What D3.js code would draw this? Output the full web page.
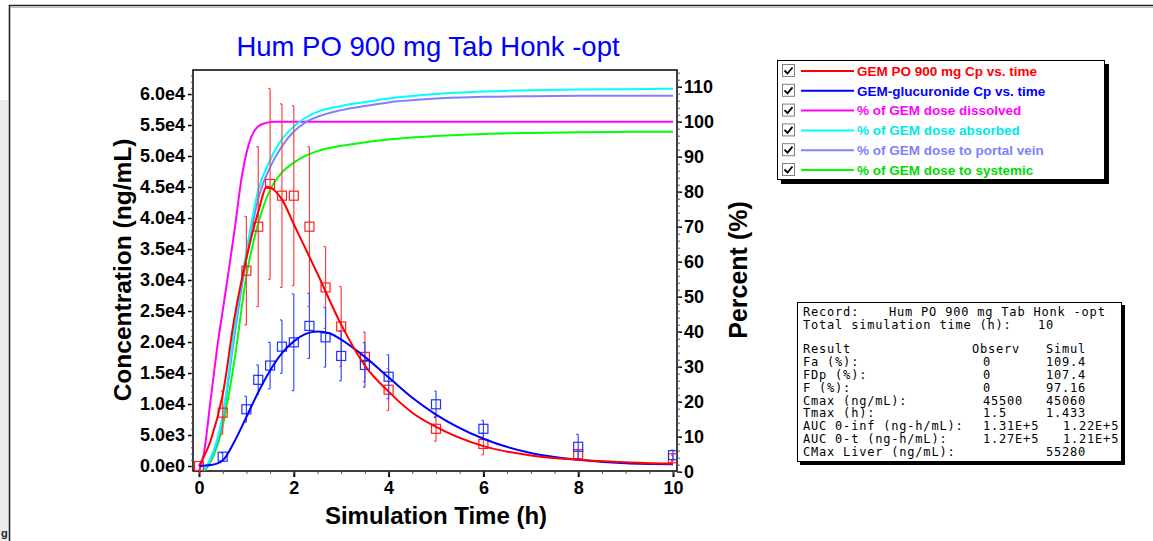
<!DOCTYPE html>
<html><head><meta charset="utf-8">
<script src="https://cdn.jsdelivr.net/npm/d3@7/dist/d3.min.js"></script>
<style>
html,body{margin:0;padding:0;background:#fff;}
svg{display:block;font-family:"Liberation Sans",Arial,sans-serif;}
</style></head>
<body>
<svg id="chart" width="1153" height="541"></svg>
<script>
// ---------- DATA ----------
const title = "Hum PO 900 mg Tab Honk -opt";
const xTicks = [0, 2, 4, 6, 8, 10];
const yLeftTicks = [0, 5000, 10000, 15000, 20000, 25000, 30000, 35000, 40000, 45000, 50000, 55000, 60000];
const yLeftLabels = ["0.0e0","5.0e3","1.0e4","1.5e4","2.0e4","2.5e4","3.0e4","3.5e4","4.0e4","4.5e4","5.0e4","5.5e4","6.0e4"];
const yRightTicks = [0, 10, 20, 30, 40, 50, 60, 70, 80, 90, 100, 110];

// simulated GEM Cp (ng/mL)
const gemT = [0, 0.25, 0.5, 0.75, 1.0, 1.25, 1.433, 1.75, 2.0, 2.5, 3.0, 3.5, 4.0, 4.5, 5, 6, 7, 8, 9, 10];
const gemCp = [0, 4200, 11500, 24000, 33500, 41000, 45060, 43000, 39000, 31000, 22800, 16200, 12000, 8600, 6300, 3200, 1700, 1000, 600, 350];
// simulated GEM-glucuronide Cp (ng/mL)
const glucT = [0, 0.25, 0.5, 0.75, 1, 1.25, 1.5, 1.75, 2, 2.25, 2.5, 2.75, 3, 3.5, 4, 4.5, 5, 6, 7, 8, 9, 10];
const glucCp = [0, 150, 900, 4000, 7900, 11900, 15400, 18200, 20100, 21300, 21700, 21400, 20400, 17600, 14300, 11000, 8300, 4400, 2100, 1000, 450, 300];

// percent curves
const dissT = [0, 0.1, 0.25, 0.4, 0.5, 0.6, 0.75, 0.9, 1.0, 1.1, 1.25, 1.4, 1.6, 2, 10];
const dissolved = [0, 5, 21, 37, 46, 55, 69, 84, 91, 95.5, 98.7, 99.6, 100, 100, 100];
const pctT = [0, 0.1, 0.25, 0.5, 0.75, 1.0, 1.25, 1.5, 1.75, 2.0, 2.25, 2.5, 3, 3.5, 4, 5, 6, 7, 8, 9, 10];
const absorbed = [0, 0.5, 4, 16, 41, 63, 80.5, 89, 95, 98.6, 101.2, 102.8, 104.5, 105.6, 106.6, 107.9, 108.6, 109.0, 109.2, 109.3, 109.4];
const portal = [0, 0.4, 3.5, 15, 39, 61, 78, 87, 93, 97.2, 99.8, 101.4, 103.3, 104.5, 105.5, 106.6, 107.1, 107.3, 107.4, 107.4, 107.4];
const systemic = [0, 0.3, 3, 13, 32, 56, 71, 80.5, 85.5, 88.3, 90.3, 91.6, 93.1, 94.1, 94.9, 95.9, 96.5, 96.8, 97.0, 97.1, 97.16];

// observed GEM
const obsGemT = [0, 0.5, 1, 1.25, 1.5, 1.75, 2, 2.33, 2.67, 3, 3.5, 4, 5, 6, 8, 10];
const obsGem = [0, 8600, 31500, 38600, 45500, 43600, 43600, 38600, 28800, 22500, 17600, 12300, 6000, 3550, 1900, 1250];
const obsGemErr = [0, 3500, 8750, 12900, 15400, 14800, 14500, 12900, 6600, 6450, 4000, 3350, 2000, 1750, 700, 500];
// observed glucuronide
const obsGlucT = [0.5, 1, 1.25, 1.5, 1.75, 2, 2.33, 2.67, 3, 3.5, 4, 5, 6, 8, 10];
const obsGluc = [1500, 9150, 13900, 16200, 19250, 19950, 22600, 20750, 17750, 16300, 14400, 9950, 6000, 3100, 1750];
const obsGlucErr = [600, 2100, 2400, 3750, 4300, 7800, 5250, 4800, 4000, 3600, 3550, 2150, 1350, 2000, 800];

const legendLabels = ["GEM PO 900 mg Cp vs. time","GEM-glucuronide Cp vs. time","% of GEM dose dissolved","% of GEM dose absorbed","% of GEM dose to portal vein","% of GEM dose to systemic"];
const legendColors = ["#ff0000","#0000ff","#ff00ff","#00ffff","#8080ff","#00ff00"];
const legendTextColors = ["#ff0000","#0000ff","#ff00ff","#00e8e8","#8080ff","#00dd00"];

const resultRows = [
  ["Fa (%):", "0", "109.4"],
  ["FDp (%):", "0", "107.4"],
  ["F (%):", "0", "97.16"],
  ["Cmax (ng/mL):", "45500", "45060"],
  ["Tmax (h):", "1.5", "1.433"],
  ["AUC 0-inf (ng-h/mL):", "1.31E+5", " 1.22E+5"],
  ["AUC 0-t (ng-h/mL):", "1.27E+5", " 1.21E+5"],
  ["CMax Liver (ng/mL):", "", "55280"]
];

// ---------- DRAW ----------
const svg = d3.select("#chart");

// outer frame
svg.append("rect").attr("x",0).attr("y",100).attr("width",8).attr("height",441).attr("fill","#ececec");
svg.append("line").attr("x1",9.5).attr("y1",5).attr("x2",9.5).attr("y2",541).attr("stroke","#222").attr("stroke-width",1.6);
svg.append("line").attr("x1",9).attr("y1",5.5).attr("x2",1153).attr("y2",5.5).attr("stroke","#222").attr("stroke-width",1.6);
svg.append("line").attr("x1",11).attr("y1",7.5).attr("x2",1153).attr("y2",7.5).attr("stroke","#bbb").attr("stroke-width",1);
svg.append("text").attr("x",1).attr("y",537).attr("font-size",11).attr("font-weight","bold").attr("fill","#222").text("g");

const L = 193, R = 677, T = 70, B = 471;
const x = d3.scaleLinear().domain([0, 10]).range([199, 673]);
const yL = d3.scaleLinear().domain([0, 60000]).range([466, 94]);
const yR = d3.scaleLinear().domain([0, 110]).range([471.7, 86.7]);

// title
svg.append("text").attr("x",428).attr("y",56).attr("text-anchor","middle")
  .attr("font-size",27.5).attr("fill","#0000ff").text(title);

// frame
svg.append("rect").attr("x",L).attr("y",T).attr("width",R-L).attr("height",B-T)
  .attr("fill","none").attr("stroke","#000").attr("stroke-width",1.5);

const tickFont = g => g.selectAll("text").attr("font-size",18).attr("font-weight","bold").attr("fill","#000").attr("font-family","'Liberation Sans',Arial,sans-serif");

// left axis
const gL = svg.append("g").attr("transform",`translate(${L},0)`)
  .call(d3.axisLeft(yL).tickValues(yLeftTicks).tickFormat((d,i)=>yLeftLabels[i]).tickSize(5).tickPadding(3));
gL.select(".domain").remove();
gL.selectAll("line").attr("stroke-width",1.5);
tickFont(gL);
const gLm = svg.append("g").attr("transform",`translate(${L},0)`)
  .call(d3.axisLeft(yL).tickValues(d3.range(0, 63001, 1000)).tickFormat("").tickSize(2));
gLm.select(".domain").remove();
gLm.selectAll("line").attr("stroke","#555");

// right axis
const gR = svg.append("g").attr("transform",`translate(${R},0)`)
  .call(d3.axisRight(yR).tickValues(yRightTicks).tickSize(5).tickPadding(2));
gR.select(".domain").remove();
gR.selectAll("line").attr("stroke-width",1.5);
tickFont(gR);
const gRm = svg.append("g").attr("transform",`translate(${R},0)`)
  .call(d3.axisRight(yR).tickValues(d3.range(0, 115, 2)).tickFormat("").tickSize(3));
gRm.select(".domain").remove();
gRm.selectAll("line").attr("stroke","#555");

// bottom axis
const gB = svg.append("g").attr("transform",`translate(0,${B})`)
  .call(d3.axisBottom(x).tickValues(xTicks).tickSize(6).tickPadding(4));
gB.select(".domain").remove();
gB.selectAll("line").attr("stroke-width",2);
tickFont(gB);
const gBm = svg.append("g").attr("transform",`translate(0,${B})`)
  .call(d3.axisBottom(x).tickValues(d3.range(0, 10.01, 0.5)).tickFormat("").tickSize(3));
gBm.select(".domain").remove();
gBm.selectAll("line").attr("stroke","#555");

// axis titles
svg.append("text").attr("x",436).attr("y",524).attr("text-anchor","middle")
  .attr("font-size",24).attr("font-weight","bold").text("Simulation Time (h)");
svg.append("text").attr("transform","translate(131,270) rotate(-90)").attr("text-anchor","middle")
  .attr("font-size",24.5).attr("font-weight","bold").text("Concentration (ng/mL)");
svg.append("text").attr("transform","translate(747,270) rotate(-90)").attr("text-anchor","middle")
  .attr("font-size",25).attr("font-weight","bold").text("Percent (%)");

// clip
svg.append("clipPath").attr("id","plotclip").append("rect").attr("x",L).attr("y",T).attr("width",R-L).attr("height",B-T);
const plot = svg.append("g").attr("clip-path","url(#plotclip)");

const lineL = d3.line().x(d=>x(d[0])).y(d=>yL(d[1])).curve(d3.curveMonotoneX);
const lineR = d3.line().x(d=>x(d[0])).y(d=>yR(d[1])).curve(d3.curveMonotoneX);
const zip = (a,b) => a.map((v,i)=>[v,b[i]]);

plot.append("path").datum(zip(dissT, dissolved)).attr("d",lineR).attr("fill","none").attr("stroke","#ff00ff").attr("stroke-width",2);
plot.append("path").datum(zip(pctT, systemic)).attr("d",lineR).attr("fill","none").attr("stroke","#00ff00").attr("stroke-width",2);
plot.append("path").datum(zip(pctT, portal)).attr("d",lineR).attr("fill","none").attr("stroke","#8080ff").attr("stroke-width",2);
plot.append("path").datum(zip(pctT, absorbed)).attr("d",lineR).attr("fill","none").attr("stroke","#00ffff").attr("stroke-width",2);

function drawObs(ts, vs, es, color, barColor){
  const g = plot.append("g");
  ts.forEach((t,i)=>{
    const cx = x(t), cy = yL(vs[i]);
    if (es[i] > 0){
      const y1 = yL(vs[i]+es[i]), y2 = yL(Math.max(vs[i]-es[i], -800));
      g.append("line").attr("x1",cx).attr("x2",cx).attr("y1",y1).attr("y2",y2).attr("stroke",barColor).attr("stroke-width",1.2);
      g.append("line").attr("x1",cx-2).attr("x2",cx).attr("y1",y1).attr("y2",y1).attr("stroke",barColor).attr("stroke-width",1.2);
      g.append("line").attr("x1",cx-2).attr("x2",cx).attr("y1",y2).attr("y2",y2).attr("stroke",barColor).attr("stroke-width",1.2);
    }
    g.append("rect").attr("x",cx-4.5).attr("y",cy-4.5).attr("width",9).attr("height",9)
      .attr("fill","none").attr("stroke",color).attr("stroke-width",1.2);
  });
}
drawObs(obsGemT, obsGem, obsGemErr, "#ff2020", "#ff4040");
drawObs(obsGlucT, obsGluc, obsGlucErr, "#2030ff", "#3050ff");

plot.append("path").datum(zip(glucT, glucCp)).attr("d",lineL).attr("fill","none").attr("stroke","#0000ff").attr("stroke-width",2);
plot.append("path").datum(zip(gemT, gemCp)).attr("d",lineL).attr("fill","none").attr("stroke","#ff0000").attr("stroke-width",2);

// legend
const lg = svg.append("g");
lg.append("rect").attr("x",781).attr("y",64).attr("width",328).attr("height",120).attr("fill","#000");
lg.append("rect").attr("x",777.5).attr("y",60.5).attr("width",327).attr("height",119).attr("fill","#fff").attr("stroke","#000").attr("stroke-width",1);
legendLabels.forEach((lab,i)=>{
  const cy = 71 + i*19.8;
  lg.append("rect").attr("x",782.5).attr("y",cy-6.5).attr("width",12).attr("height",12).attr("fill","#fff").attr("stroke","#808080").attr("stroke-width",1);
  lg.append("path").attr("d",`M${784.5},${cy-0.5} L${787.5},${cy+2.5} L${792.5},${cy-3.5}`).attr("fill","none").attr("stroke","#000").attr("stroke-width",1.8);
  lg.append("line").attr("x1",801).attr("x2",854).attr("y1",cy).attr("y2",cy).attr("stroke",legendColors[i]).attr("stroke-width",2);
  lg.append("text").attr("x",857).attr("y",cy+4.7).attr("font-size",13.5).attr("font-weight","bold").attr("fill",legendTextColors[i]).text(lab);
});

// results box
const rb = svg.append("g").attr("font-family","'DejaVu Sans Mono',monospace").attr("font-size",12).attr("fill","#000");
rb.append("rect").attr("x",800).attr("y",305).attr("width",325).attr("height",160).attr("fill","#000");
rb.append("rect").attr("x",797.5).attr("y",302.5).attr("width",324).attr("height",159).attr("fill","#fff").attr("stroke","#000").attr("stroke-width",1);
const tx = (xx,yy,s)=>rb.append("text").attr("x",xx).attr("y",yy).attr("letter-spacing","0.8px").text(s);
tx(803,316,"Record:");
tx(889,316,"Hum PO 900 mg Tab Honk -opt");
tx(803,329,"Total simulation time (h):");
tx(1038,329,"10");
tx(803,353,"Result");
tx(972,353,"Observ");
tx(1046,353,"Simul");
resultRows.forEach((r,i)=>{
  const yy = 366 + i*12.84;
  tx(803,yy,r[0]);
  tx(983,yy,r[1]);
  tx(r[2].startsWith(" ")?1063:1046,yy,r[2].trim());
});
</script>
</body></html>
